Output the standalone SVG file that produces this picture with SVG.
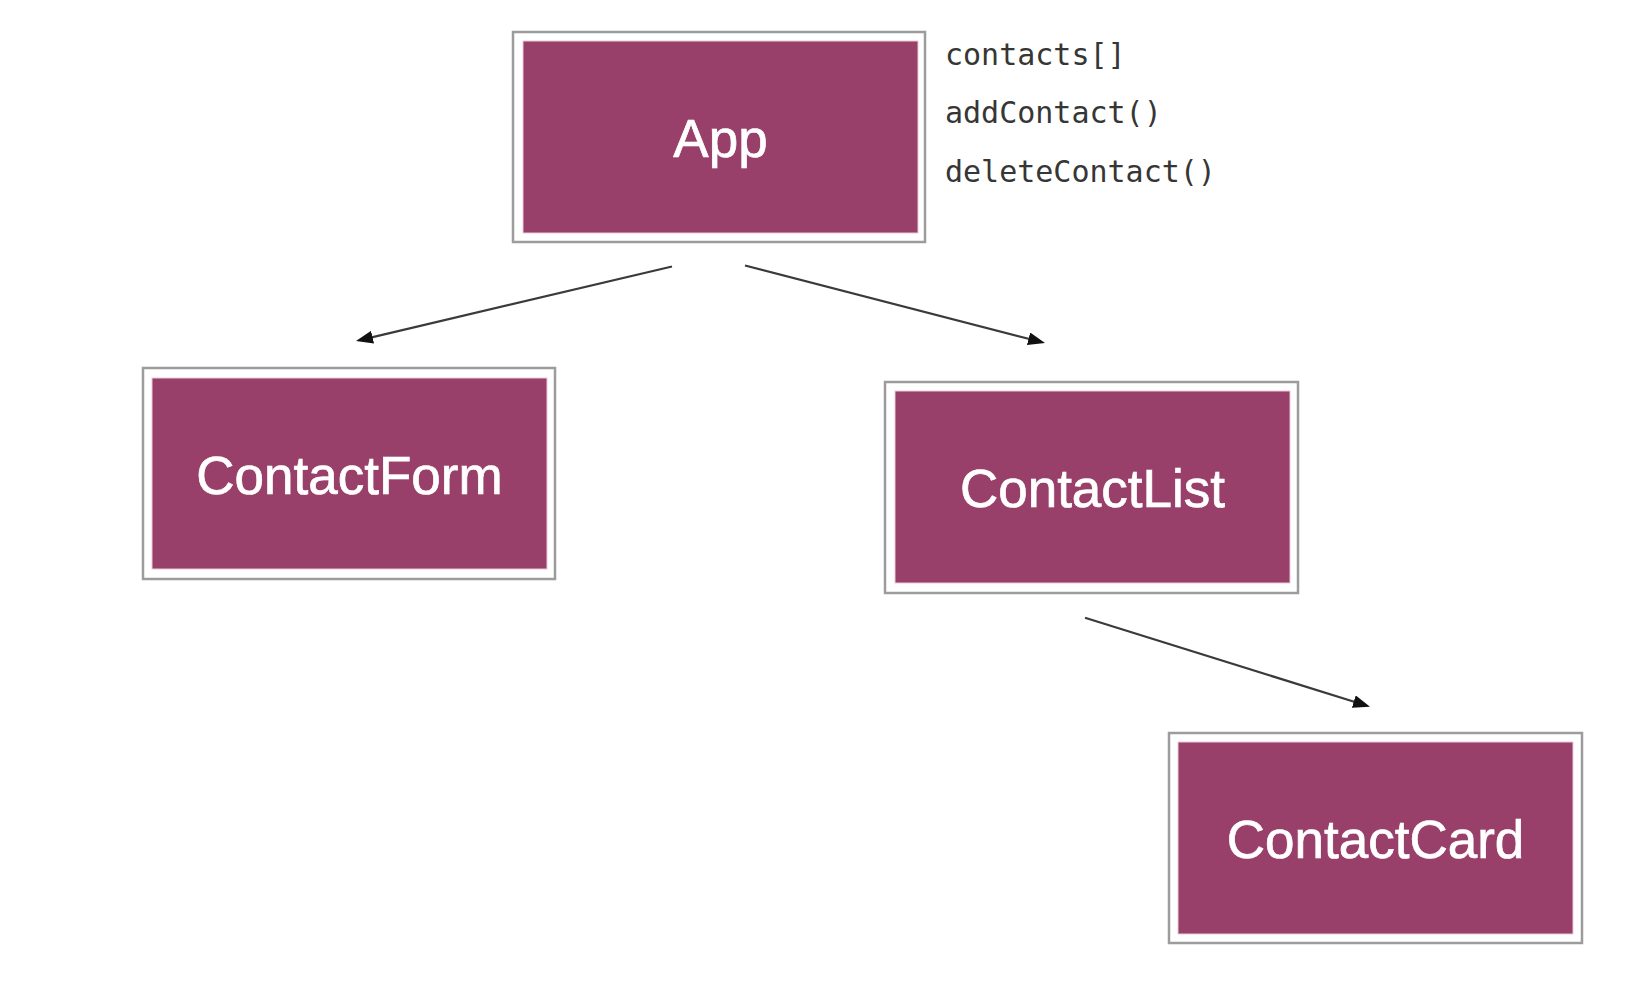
<svg xmlns="http://www.w3.org/2000/svg" width="1637" height="987" viewBox="0 0 1637 987">
  <style>
    .frame { fill: #ffffff; stroke: #9c9c9c; stroke-width: 2.5; }
    .card { fill: #983f6a; stroke: #e9c9d8; stroke-width: 1; }
    .label { font-family: "Liberation Sans", Arial, sans-serif; font-size: 53px; fill: #ffffff; stroke: #ffffff; stroke-width: 0.7; text-anchor: middle; }
    .code { font-family: "DejaVu Sans Mono", "Liberation Mono", monospace; font-size: 30px; fill: #363636; }
    .edge { stroke: #3a3a3a; stroke-width: 2.2; fill: none; marker-end: url(#arrow); }
  </style>
  <defs>
    <marker id="arrow" markerUnits="userSpaceOnUse" markerWidth="17" markerHeight="13" refX="2" refY="6.5" orient="auto">
      <path d="M0,0 L17,6.5 L0,13 Z" fill="#111111"/>
    </marker>
  </defs>
  <rect width="1637" height="987" fill="#ffffff"/>

  <g id="connectors">
    <line class="edge" x1="672" y1="266.5" x2="370.6" y2="337.6"/>
    <line class="edge" x1="745" y1="265.5" x2="1030.5" y2="339.3"/>
    <line class="edge" x1="1085" y1="617.8" x2="1355.7" y2="702.2"/>
  </g>

  <g id="app">
    <rect class="frame" x="513" y="32" width="412" height="210"/>
    <rect class="card" x="523" y="41" width="395" height="192"/>
    <text class="label" x="720.5" y="157">App</text>
  </g>

  <g id="app-state">
    <text class="code" x="945" y="65">contacts[]</text>
    <text class="code" x="945" y="123">addContact()</text>
    <text class="code" x="945" y="182">deleteContact()</text>
  </g>

  <g id="contactform">
    <rect class="frame" x="143" y="368" width="412" height="211"/>
    <rect class="card" x="152" y="378" width="395" height="191"/>
    <text class="label" x="349.5" y="493.5">ContactForm</text>
  </g>

  <g id="contactlist">
    <rect class="frame" x="885" y="382" width="413" height="211"/>
    <rect class="card" x="895" y="391" width="395" height="192"/>
    <text class="label" x="1092.5" y="507">ContactList</text>
  </g>

  <g id="contactcard">
    <rect class="frame" x="1169" y="733" width="413" height="210"/>
    <rect class="card" x="1178" y="742" width="395" height="192"/>
    <text class="label" x="1375.5" y="858">ContactCard</text>
  </g>
</svg>
